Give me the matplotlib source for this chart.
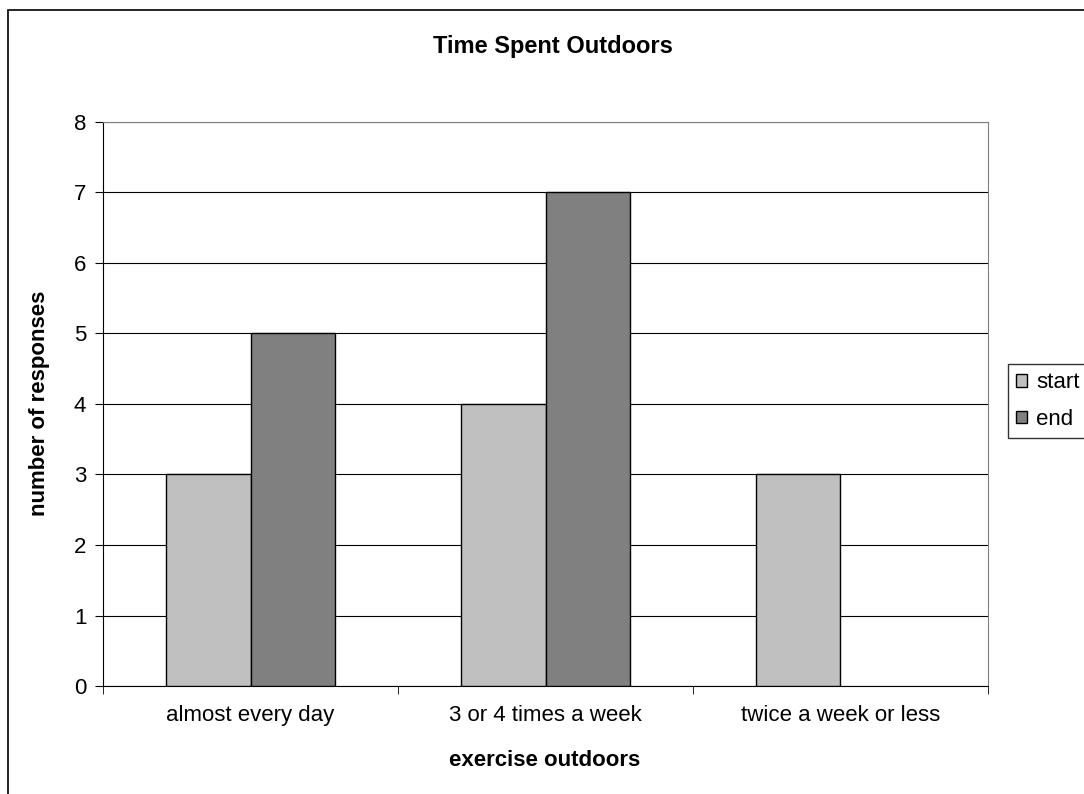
import numpy as np
import matplotlib
matplotlib.use("Agg")
import matplotlib.pyplot as plt
from matplotlib.patches import Rectangle

categories = ["almost every day", "3 or 4 times a week", "twice a week or less"]
start = [3, 4, 3]
end = [5, 7, 0]
yticks = [0, 1, 2, 3, 4, 5, 6, 7, 8]

plt.rcParams['font.family'] = ['Liberation Sans', 'DejaVu Sans']

fig = plt.figure(figsize=(10.84, 7.94), dpi=100)
ax = fig.add_axes([103/1084, 1-686/794, 885/1084, 564/794])

x = np.arange(len(categories))
w = 0.285
ax.bar(x - w/2, start, w, color='#C0C0C0', edgecolor='black', linewidth=1, label='start', zorder=3)
ax.bar(x + w/2, [v if v > 0 else np.nan for v in end], w, color='#808080', edgecolor='black',
       linewidth=1, label='end', zorder=3)

ax.set_xlim(-0.5, 2.5)
ax.set_ylim(0, 8)
ax.set_yticks(yticks)
ax.yaxis.grid(True, color='black', linewidth=0.8, zorder=0)
ax.set_xticks(x)
ax.set_xticklabels(categories, fontsize=16)
ax.tick_params(axis='x', which='major', length=0, pad=14)
ax.set_xticks([-0.5, 0.5, 1.5, 2.5], minor=True)
ax.tick_params(axis='x', which='minor', length=6, color='black')
ax.tick_params(axis='y', labelsize=16, length=6, pad=6)
for s in ['top', 'right']:
    ax.spines[s].set_color('#808080')
ax.spines['left'].set_color('black')
ax.spines['bottom'].set_color('black')

fig.text(553/1084, 1 - 47/794, "Time Spent Outdoors", fontsize=17, fontweight='bold',
         ha='center', va='center')
ax.set_xlabel("exercise outdoors", fontsize=16, fontweight='bold')
ax.xaxis.set_label_coords((545-103)/885, (686-760)/564)
ax.xaxis.label.set_va('center')
ax.set_ylabel("number of responses", fontsize=16, fontweight='bold')
ax.yaxis.set_label_coords((40-103)/885, (686-403)/564)
ax.yaxis.label.set_va('center')

fig.legend(loc='upper left', bbox_to_anchor=(1008/1084, 1-364/794), frameon=True, fancybox=False,
           edgecolor='black', fontsize=16, handlelength=0.5, handleheight=0.5, handletextpad=0.4,
           borderpad=0.375, labelspacing=0.7, borderaxespad=0)

fig.patches.append(Rectangle((8/1084, -0.02), 1.05, 1 - 10/794 + 0.02, transform=fig.transFigure,
                             fill=False, edgecolor='black', linewidth=1.2))

fig.savefig("out.png", dpi=100)
